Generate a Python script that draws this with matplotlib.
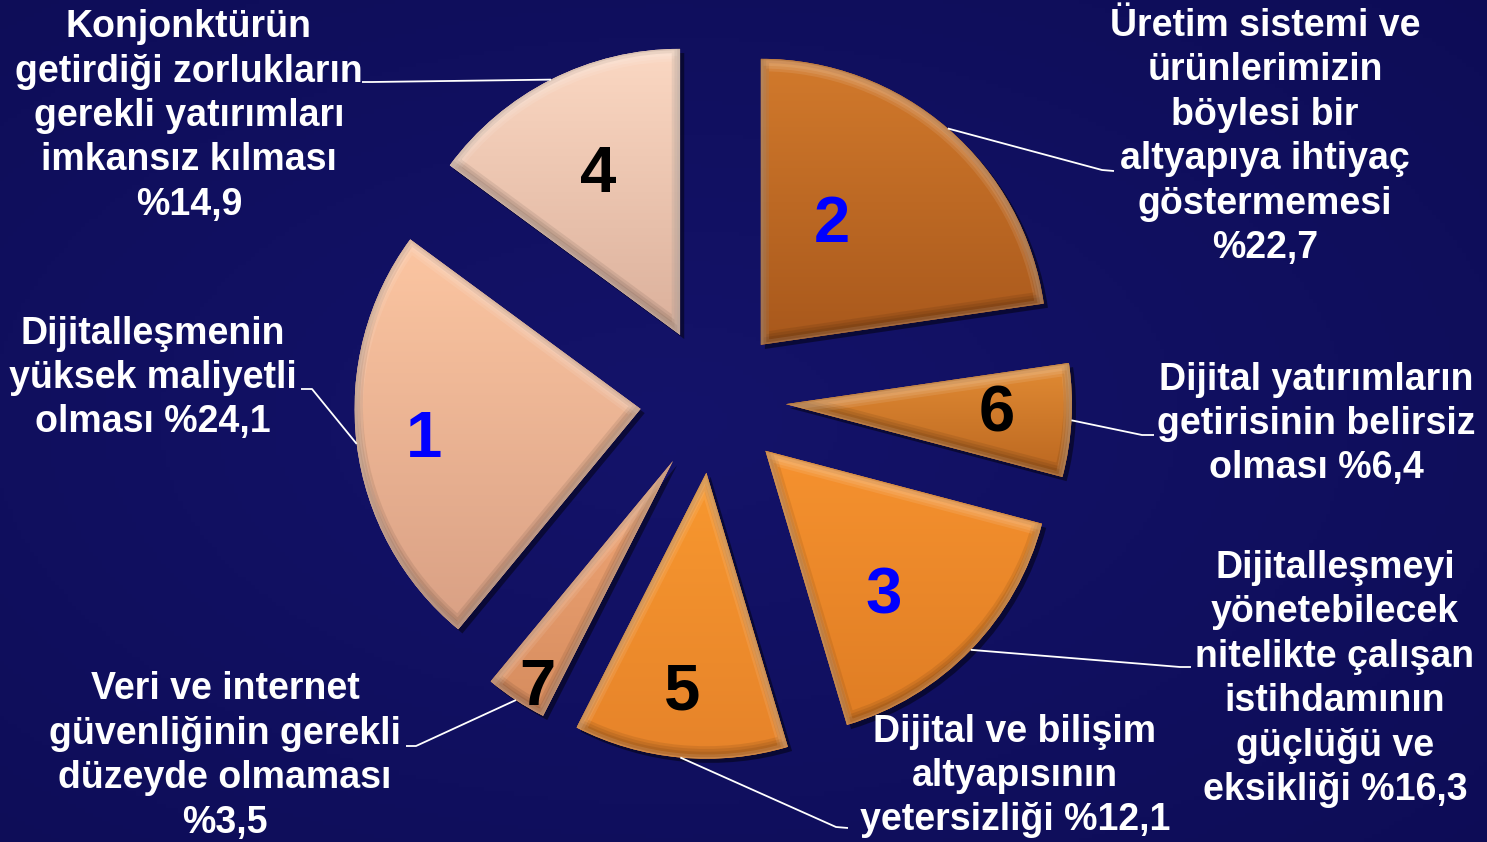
import numpy as np
import matplotlib.pyplot as plt
from matplotlib.patches import Wedge
from matplotlib import patheffects as pe
from matplotlib.colors import to_rgb

W, H = 1487, 842

# slices, clockwise from 12 o'clock
slice_ids = ['2', '6', '3', '5', '7', '1', '4']
shares = [22.7, 6.4, 16.3, 12.1, 3.5, 24.1, 14.9]
labels = [
    'Üretim sistemi ve\nürünlerimizin\nböylesi bir\naltyapıya ihtiyaç\ngöstermemesi\n%22,7',
    'Dijital yatırımların\ngetirisinin belirsiz\nolması %6,4',
    'Dijitalleşmeyi\nyönetebilecek\nnitelikte çalışan\nistihdamının\ngüçlüğü ve\neksikliği %16,3',
    'Dijital ve bilişim\naltyapısının\nyetersizliği %12,1',
    'Veri ve internet\ngüvenliğinin gerekli\ndüzeyde olmaması\n%3,5',
    'Dijitalleşmenin\nyüksek maliyetli\nolması %24,1',
    'Konjonktürün\ngetirdiği zorlukların\ngerekli yatırımları\nimkansız kılması\n%14,9',
]
top_colors = ['#d27a2c', '#e28c34', '#f6922f', '#f8982f', '#f2a878', '#fcc6a2', '#fbd8c3']
bottom_colors = ['#a8581c', '#ba6620', '#df7d24', '#e6832a', '#d68c5e', '#d9a084', '#dbb09b']
id_colors = ['#0000ff', 'black', '#0000ff', 'black', 'black', '#0000ff', 'black']

# layout (image pixel coords, y from top)
center_px = (713, 400)
radius = 286
explode_px = 73
num_xy = [(832, 225), (997, 415), (884, 597), (682, 692), (537, 688), (424, 440), (598, 175)]
label_xy = [(1265, 137), (1316, 424), (1335, 679), (1015, 776), (225, 756), (153, 378), (189, 116)]
elbow_xy = [(1102, 170), (1142, 435), (1180, 667), (836, 827), (416, 746), (312, 389), (372, 82)]
end_xy = [(1114, 171), (1154, 435), (1191, 667), (848, 828), (406, 746), (301, 389), (362, 82)]


def px(p):
    return p[0], H - p[1]


fig = plt.figure(figsize=(W / 100, H / 100), dpi=100)
fig.patch.set_facecolor('#111161')
ax = fig.add_axes([0, 0, 1, 1])

# background
yy, xx = np.mgrid[0:1:200j, 0:1:350j]
d = np.clip(np.sqrt(((xx - 0.45) / 0.8) ** 2 + ((yy - 0.5) / 0.8) ** 2), 0, 1)
c_in, c_out = np.array(to_rgb('#14136a')), np.array(to_rgb('#0d0c55'))
bg = (1 - d)[..., None] * c_in + d[..., None] * c_out
ax.imshow(bg, extent=(0, W, 0, H), origin='upper', aspect='auto', zorder=0)

wedges, _ = ax.pie(shares, explode=[explode_px] * len(shares), startangle=90,
                   counterclock=False, radius=radius, center=px(center_px),
                   colors=top_colors, frame=True)

# soft bevel: light band on upper edges, dark band on lower edges
bevel_fx = []
for lw in (12, 8, 4):
    bevel_fx.append(pe.Stroke(offset=(0, 3), linewidth=lw, foreground='black', alpha=0.08))
for lw in (12, 8, 4):
    bevel_fx.append(pe.Stroke(offset=(0, -3), linewidth=lw, foreground='white', alpha=0.09))

for i, w in enumerate(wedges):
    w.set_zorder(1)
    w.set_path_effects([pe.SimplePatchShadow(offset=(3, -3), alpha=0.45,
                                             shadow_rgbFace='black'), pe.Normal()])
    x0, y0, x1, y1 = w.get_path().get_extents().extents
    g = np.linspace(0, 1, 256)[:, None, None]
    grad = (1 - g) * np.array(to_rgb(top_colors[i])) + g * np.array(to_rgb(bottom_colors[i]))
    im = ax.imshow(grad, extent=(x0, x1, y0, y1), origin='upper', aspect='auto',
                   interpolation='bilinear', zorder=2)
    im.set_clip_path(w)
    bevel = Wedge(w.center, w.r, w.theta1, w.theta2, fc='none', ec='none', zorder=3)
    ax.add_patch(bevel)
    bevel.set_clip_path(w)
    bevel.set_path_effects(bevel_fx)

    # slice number
    ax.text(*px(num_xy[i]), slice_ids[i], color=id_colors[i], fontsize=47,
            fontweight='bold', family='Liberation Sans', ha='center', va='center', zorder=5)

    # leader line from the middle of the arc
    m = np.deg2rad((w.theta1 + w.theta2) / 2)
    sx, sy = w.center[0] + w.r * np.cos(m), w.center[1] + w.r * np.sin(m)
    ex, ey = px(elbow_xy[i])
    tx, ty = px(end_xy[i])
    ax.plot([sx, ex, tx], [sy, ey, ty], color='white', lw=1.3, zorder=4,
            solid_capstyle='butt')

    ax.text(*px(label_xy[i]), labels[i], color='white', fontsize=27, fontweight='bold',
            family='Liberation Sans', ha='center', va='center', multialignment='center',
            linespacing=1.3, zorder=5)

ax.set_xlim(0, W)
ax.set_ylim(0, H)
ax.set_axis_off()

fig.savefig('out.png', dpi=100, facecolor=fig.get_facecolor())
